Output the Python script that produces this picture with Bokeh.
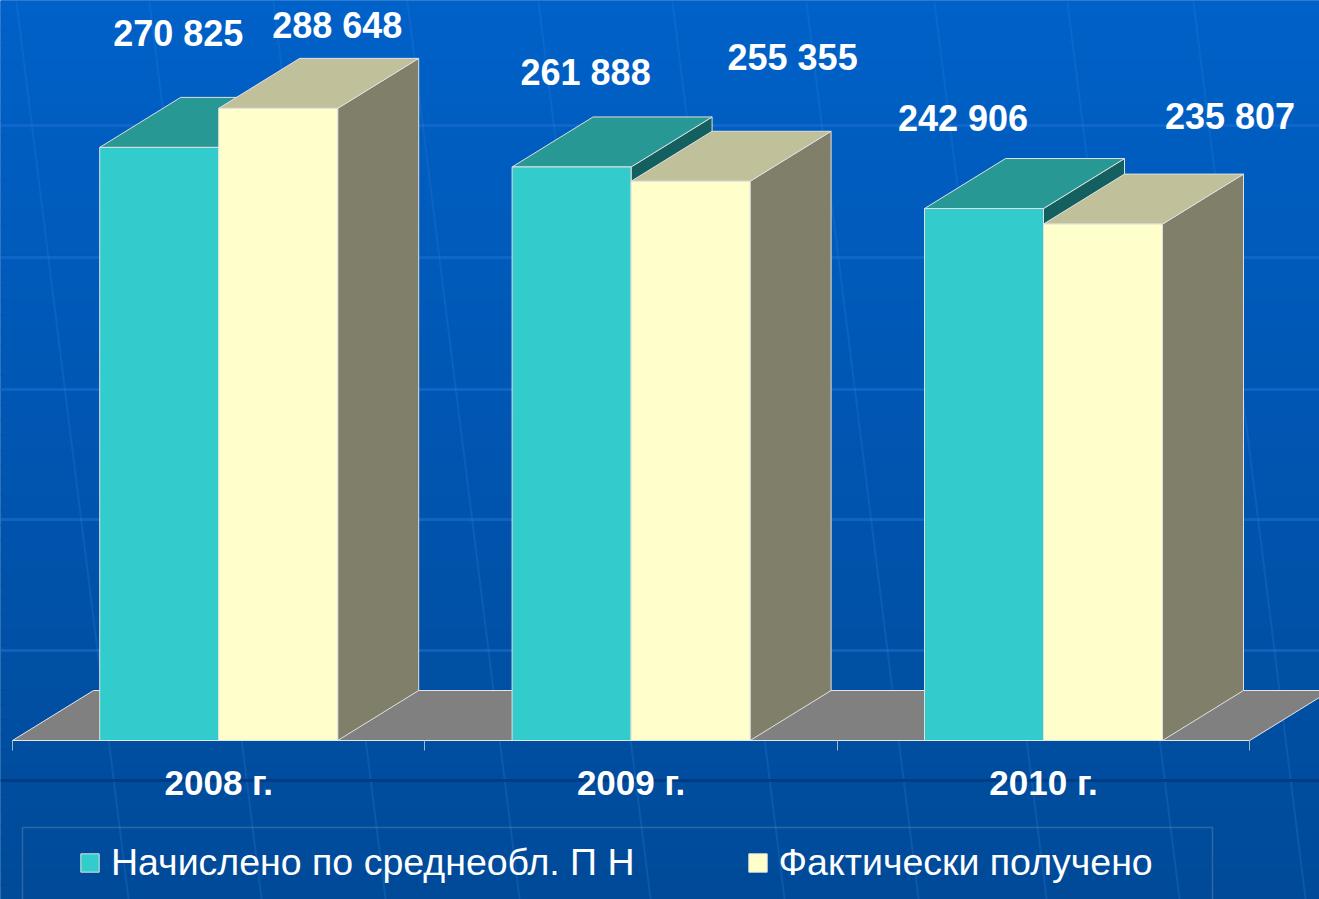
from bokeh.plotting import figure
from bokeh.models import Range1d, LinearAxis, FixedTicker, Legend, LegendItem, BoxAnnotation
from bokeh.core.properties import value
from bokeh.embed import file_html
from bokeh.resources import INLINE

# ---------------- data ----------------
years = ["2008 г.", "2009 г.", "2010 г."]
accrued = [270825, 261888, 242906]
received = [288648, 255355, 235807]
series_names = ["Начислено по среднеобл. П Н", "Фактически получено"]

# ---------------- layout (pixels of the picture) ----------------
FIG_W, FIG_H = 1319, 899
PAGE_OFF = 0
ORIGIN_X = 12.0      # picture x of category 0 start
SLOT = 412.4         # picture px per category
BASE_Y = 740.0       # picture y of value 0
K = 0.00219          # picture px per unit value


def px_x(px):
    return (px - ORIGIN_X) / SLOT


def px_y(py):
    return (BASE_Y - py) / K


BW = 119.0 / SLOT          # bar width in category units
DX = 81.0 / SLOT           # 3d depth offsets
DY = 50.0 / K

FONT = "Liberation Sans"

p = figure(width=FIG_W, height=FIG_H,
           x_range=Range1d(px_x(PAGE_OFF), px_x(PAGE_OFF + FIG_W)),
           y_range=Range1d(px_y(PAGE_OFF + FIG_H), px_y(PAGE_OFF)),
           output_backend="svg", toolbar_location=None, min_border=0,
           x_axis_type=None, y_axis_type=None)
p.outline_line_color = None
p.background_fill_color = "#0055B0"
p.border_fill_color = "#0055B0"

# ---------------- background gradient ----------------
top_c = (0x00, 0x61, 0xC8)
bot_c = (0x00, 0x4A, 0x98)
n = 60
bl, br, bt, bb, bc = [], [], [], [], []
for i in range(n):
    y0 = 899.0 * i / n
    y1 = 899.0 * (i + 1) / n
    t = (i + 0.5) / n
    c = tuple(int(round(top_c[j] + (bot_c[j] - top_c[j]) * t)) for j in range(3))
    bl.append(px_x(0)); br.append(px_x(1319))
    bt.append(px_y(y0)); bb.append(px_y(y1))
    bc.append("#%02x%02x%02x" % c)
p.quad(left=bl, right=br, top=bt, bottom=bb, fill_color=bc, line_color=bc, line_width=1)

# faint template lines
h_lines = [125, 257, 389, 519, 650]
p.segment(x0=[px_x(0)] * len(h_lines), x1=[px_x(1319)] * len(h_lines),
          y0=[px_y(v) for v in h_lines], y1=[px_y(v) for v in h_lines],
          line_color="#1E70D4", line_width=3, line_alpha=0.55)
mer = [122, 255, 379, 513, 644, 778, 912, 1040, 1173, 1299]
p.segment(x0=[px_x(m - 0.125 * 850) for m in mer], x1=[px_x(m + 0.125 * 49) for m in mer],
          y0=[px_y(0)] * len(mer), y1=[px_y(899)] * len(mer),
          line_color="#2A7EE0", line_width=2, line_alpha=0.25)
p.segment(x0=[px_x(0)], x1=[px_x(1319)], y0=[px_y(780)], y1=[px_y(780)],
          line_color="#003C84", line_width=3)

# ---------------- floor ----------------
p.patch(x=[0, 3, 3 + DX, DX], y=[0, 0, DY, DY], fill_color="#808080",
        line_color="#E6E6E6", line_width=1)

# ---------------- 3d bars ----------------
face_cols = [
    ("#33CCCC", "#279893", "#145F5F"),
    ("#FFFFCC", "#C0C09A", "#80806A"),
]
fronts = []
for s, vals in enumerate([accrued, received]):
    fc, tc, sc = face_cols[s]
    lefts = [i + 0.5 - BW + s * BW for i in range(len(vals))]
    rights = [l + BW for l in lefts]
    side_x = [[r, r, r + DX, r + DX] for r in rights]
    side_y = [[0, v, v + DY, DY] for v in vals]
    top_x = [[l, r, r + DX, l + DX] for l, r in zip(lefts, rights)]
    top_y = [[v, v, v + DY, v + DY] for v in vals]
    p.patches(xs=side_x, ys=side_y, fill_color=sc, line_color="#E0E0E0", line_width=1)
    p.patches(xs=top_x, ys=top_y, fill_color=tc, line_color="#E0E0E0", line_width=1)
    fr = p.quad(left=lefts, right=rights, bottom=0, top=vals, fill_color=fc,
                line_color="#E0E0E0", line_width=1)
    fronts.append(fr)

# ---------------- value labels ----------------
lab_dx = [[19, 14, -21], [59, 102, 127]]
lab_dy = [[-114, -94, -90], [-83, -124, -108]]
for s, vals in enumerate([accrued, received]):
    centers = [i + 0.5 - BW / 2 + s * BW for i in range(len(vals))]
    texts = [f"{v:,}".replace(",", " ") for v in vals]
    p.text(x=centers, y=vals, text=texts, x_offset=lab_dx[s], y_offset=lab_dy[s],
           text_align="center", text_baseline="middle", text_color="white",
           text_font=value(FONT), text_font_style="bold", text_font_size="36px")

# ---------------- axes ----------------
ax = LinearAxis(fixed_location=0, ticker=FixedTicker(ticks=[0, 1, 2, 3]), bounds=(0, 3))
ax.major_tick_in = 0
ax.major_tick_out = 10
ax.minor_tick_line_color = None
ax.major_label_text_font_size = "0px"
ax.major_label_text_color = None
ax.axis_line_color = "#E6E6E6"
ax.major_tick_line_color = "#A8B4C8"
p.add_layout(ax, "below")

cat = LinearAxis(fixed_location=0, ticker=FixedTicker(ticks=[i + 0.5 for i in range(len(years))]),
                 major_label_overrides={i + 0.5: y for i, y in enumerate(years)})
cat.axis_line_color = None
cat.major_tick_line_color = None
cat.minor_tick_line_color = None
cat.major_tick_in = 0
cat.major_tick_out = 0
cat.major_label_standoff = 22
cat.major_label_text_color = "white"
cat.major_label_text_font = FONT
cat.major_label_text_font_style = "bold"
cat.major_label_text_font_size = "35px"
p.add_layout(cat, "below")

# ---------------- legend ----------------
box = BoxAnnotation(left=px_x(22), right=px_x(1212), top=px_y(827), bottom=px_y(910),
                    fill_color=None, line_color="#9AA4B6", line_width=1.5)
p.add_layout(box)

legend = Legend(items=[LegendItem(label=series_names[0], renderers=[fronts[0]]),
                       LegendItem(label=series_names[1], renderers=[fronts[1]])],
                orientation="horizontal", location=(78, 15),
                glyph_width=23, glyph_height=23, label_standoff=10, spacing=111,
                padding=0, margin=0, border_line_color=None, background_fill_alpha=0,
                label_text_color="white", label_text_font=FONT,
                label_text_font_size="37.5px")
p.add_layout(legend)

html = file_html(p, INLINE, title="chart")
with open("out.html", "w", encoding="utf-8") as f:
    f.write(html)
